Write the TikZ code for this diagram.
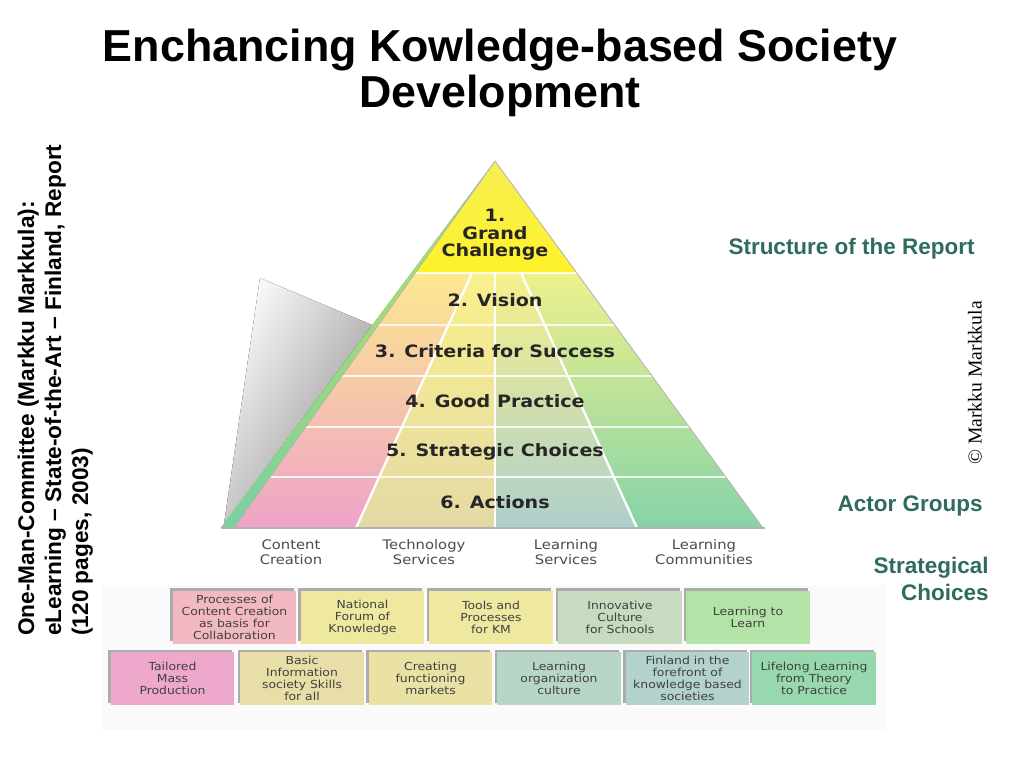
\documentclass[tikz,border=0pt]{standalone}
\usepackage{fontspec}
\setmainfont{Liberation Sans}
\newfontfamily\pyrfont[FakeStretch=1.12]{DejaVu Sans}
\newfontfamily\seriffont{Liberation Serif}
\usetikzlibrary{calc, shadows}

\definecolor{reportteal}{HTML}{2F6B5F}
\definecolor{apexyellow}{HTML}{F5EE55}
\definecolor{bandyellow}{HTML}{FFF22A}
\definecolor{colAtop}{HTML}{FBE890}
\definecolor{colAmid}{HTML}{F7CFA8}
\definecolor{colAbot}{HTML}{EFA3C8}
\definecolor{colBtop}{HTML}{FAF08C}
\definecolor{colBbot}{HTML}{E4D9A4}
\definecolor{colCtop}{HTML}{F6F08C}
\definecolor{colCbot}{HTML}{AECFCB}
\definecolor{colDtop}{HTML}{EEF08C}
\definecolor{colDmid}{HTML}{C8E8A0}
\definecolor{colDbot}{HTML}{86D3A8}
\definecolor{stripTop}{HTML}{C4E44C}
\definecolor{stripBot}{HTML}{7ACFA4}
% box colours
\definecolor{boxPink}{HTML}{F3B9C3}
\definecolor{boxYellowA}{HTML}{EFE9A0}
\definecolor{boxYellowB}{HTML}{EFE8A0}
\definecolor{boxSage}{HTML}{C6DBC0}
\definecolor{boxGreen}{HTML}{B3E3A6}
\definecolor{boxMagenta}{HTML}{EEA8CB}
\definecolor{boxKhakiA}{HTML}{E7DFA7}
\definecolor{boxKhakiB}{HTML}{EAE1A4}
\definecolor{boxTealA}{HTML}{B7D6C7}
\definecolor{boxTealB}{HTML}{B3D2CB}
\definecolor{boxMint}{HTML}{98D8AF}

\tikzset{
  heading/.style={anchor=base, inner sep=0pt, font=\bfseries\fontsize{25.5}{27}\selectfont},
  sidetext/.style={anchor=base west, rotate=90, inner sep=0pt,
    font=\bfseries\fontsize{12.9}{15}\selectfont},
  note/.style={text=reportteal, inner sep=0pt, align=right,
    font=\bfseries\fontsize{12.8}{15.3}\selectfont},
  level/.style={text=black!85, inner sep=0pt, align=center,
    font=\pyrfont\bfseries\fontsize{9.7}{10}\selectfont},
  actor/.style={text=black!70, inner sep=0pt, align=center,
    font=\pyrfont\fontsize{7.5}{8.5}\selectfont},
  choice/.style={fill=#1, text=black!75, align=center, inner sep=1pt,
    minimum width=2.48cm, minimum height=1.06cm,
    font=\pyrfont\fontsize{6.3}{6.8}\selectfont,
    drop shadow={shadow xshift=-1.2pt, shadow yshift=1.2pt, fill=gray!65, opacity=1}}
}

\begin{document}
\begin{tikzpicture}[x=0.02cm, y=-0.02cm]
    \useasboundingbox (0,0) rectangle (1024,768);
    \fill[white] (0,0) rectangle (1024,768);

    \node (title_top) at (500,61) [heading] {Enchancing Kowledge-based Society};
    \node (title_bottom) at (500,107) [heading] {Development};

    \node (side_a) at (34,636) [sidetext] {One-Man-Committee (Markku Markkula):};
    \node (side_b) at (61,636) [sidetext] {eLearning -- State-of-the-Art -- Finland, Report};
    \node (side_c) at (88,636) [sidetext] {(120 pages, 2003)};

    % Pyramid
    \fill[gray!4] (103,585) rectangle (885,730);
    \fill[top color=gray!5, bottom color=gray!85, shading angle=60]
        (260,278) -- (372,325) -- (224,524) -- cycle;
    \fill[top color=stripTop, bottom color=stripBot]
        (495,161) -- (490,168) -- (221,528) -- (234,528) -- cycle;
    \draw[green!50!gray!60, line width=0.4pt] (490,168) -- (221,528);

    \begin{scope}
      \clip (234,528) -- (495,161) -- (763,528) -- cycle;
      \fill[top color=colAtop, middle color=colAmid, bottom color=colAbot]
          (200,273) -- (472,273) -- (356,528) -- (200,528) -- cycle;
      \fill[top color=colBtop, bottom color=colBbot]
          (472,273) -- (495,273) -- (495,528) -- (356,528) -- cycle;
      \fill[top color=colCtop, bottom color=colCbot]
          (495,273) -- (521,273) -- (637,528) -- (495,528) -- cycle;
      \fill[top color=colDtop, middle color=colDmid, bottom color=colDbot]
          (521,273) -- (800,273) -- (800,528) -- (637,528) -- cycle;
      \fill[top color=apexyellow, bottom color=bandyellow]
          (400,150) rectangle (600,273);
      \foreach \y in {273, 325, 376, 427, 477}
          \draw[white, line width=0.6pt, opacity=.85] (200,\y) -- (800,\y);
      \draw[white, line width=1.3pt] (472,273) -- (356,528);
      \draw[white, line width=1.3pt] (495,273) -- (495,528);
      \draw[white, line width=1.3pt] (521,273) -- (637,528);
    \end{scope}
    \draw[gray!55, line width=0.5pt] (234,528) -- (495,161) -- (763,528);
    \draw[gray!60, line width=0.8pt] (221,528) -- (765,528);

    \node (challenge) at (495,235) [level] {1.\\Grand\\Challenge};
    \node (vision) at (495,300) [level] {2. Vision};
    \node (criteria) at (495,351) [level] {3. Criteria for Success};
    \node (practice) at (495,401) [level] {4. Good Practice};
    \node (choices) at (495,452) [level] {5. Strategic Choices};
    \node (actions) at (495,502) [level] {6. Actions};

    % Actor groups
    \node (content) at (291,552) [actor] {Content\\Creation};
    \node (technology) at (424,552) [actor] {Technology\\Services};
    \node (services) at (566,552) [actor] {Learning\\Services};
    \node (communities) at (704,552) [actor] {Learning\\Communities};

    % Strategical choices
    \node (processes) at (234.5,617) [choice=boxPink] {Processes of\\Content Creation\\as basis for\\Collaboration};
    \node (forum) at (362.5,617) [choice=boxYellowA] {National\\Forum of\\Knowledge};
    \node (tools) at (491,617) [choice=boxYellowB] {Tools and\\Processes\\for KM};
    \node (schools) at (620,617) [choice=boxSage] {Innovative\\Culture\\for Schools};
    \node (learn) at (748,617) [choice=boxGreen] {Learning to\\Learn};

    \node (tailored) at (172.5,678.5) [choice=boxMagenta] {Tailored\\Mass\\Production};
    \node (basic) at (302,678.5) [choice=boxKhakiA] {Basic\\Information\\society Skills\\for all};
    \node (markets) at (430.5,678.5) [choice=boxKhakiB] {Creating\\functioning\\markets};
    \node (organization) at (559,678.5) [choice=boxTealA] {Learning\\organization\\culture};
    \node (finland) at (687.5,678.5) [choice=boxTealB] {Finland in the\\forefront of\\knowledge based\\societies};
    \node (lifelong) at (814,678.5) [choice=boxMint] {Lifelong Learning\\from Theory\\to Practice};

    \node (report) at (975,249) [note, anchor=east] {Structure of the Report};
    \node (actor_groups) at (983,506) [note, anchor=east] {Actor Groups};
    \node (strategical) at (989,579) [note, anchor=east] {Strategical\\Choices};
    \node (copyright) at (975,383) [rotate=90, inner sep=0pt,
        font=\seriffont\fontsize{11.2}{13}\selectfont] {© Markku Markkula};
\end{tikzpicture}
\end{document}
